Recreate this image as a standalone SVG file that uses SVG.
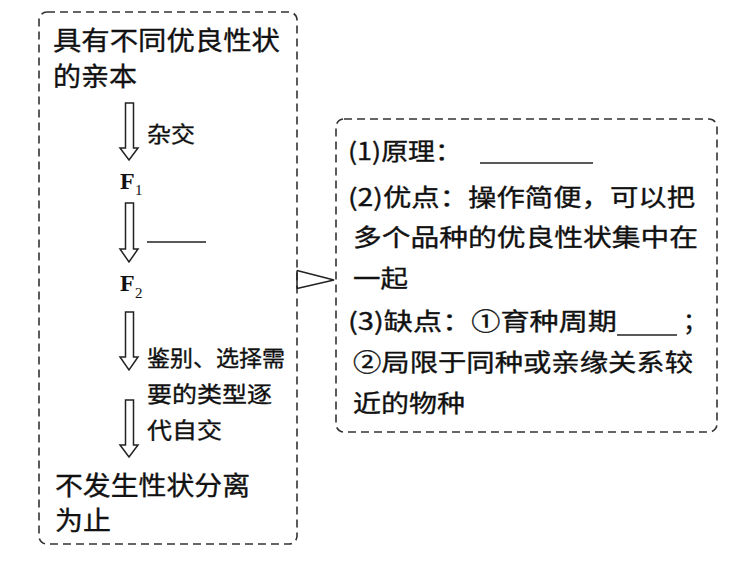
<svg xmlns="http://www.w3.org/2000/svg" width="754" height="561" viewBox="0 0 754 561">
<style>
.box{fill:none;stroke:#333;stroke-width:1.6;stroke-dasharray:8 5}
.arr{fill:#fff;stroke:#222;stroke-width:1.5;stroke-linejoin:miter}
.t{font-family:"Noto Sans CJK SC","Noto Sans",sans-serif;fill:#111;stroke:#111;stroke-width:0.35}
.big{font-size:26px}
.mid{font-size:22px}
.rt{font-size:24px}
.f{font-family:"Liberation Serif",serif;font-weight:bold;font-size:24px;fill:#111}
.sub{font-family:"Liberation Serif",serif;font-size:15px;fill:#111}
.ln{stroke:#222;stroke-width:1.4}
</style>
<rect width="754" height="561" fill="#fff"/>
<g id="left-node">
<rect class="box" x="39" y="12" width="258" height="532" rx="8"/>
<text class="t big" x="53" y="50" textLength="227" lengthAdjust="spacingAndGlyphs">具有不同优良性状</text>
<text class="t big" x="53" y="86" textLength="84" lengthAdjust="spacingAndGlyphs">的亲本</text>
<path class="arr" d="M125.5,103 V148 H120 L129,160 L138,148 H133.5 V103 Z"/>
<text class="t mid" x="147" y="142" textLength="48" lengthAdjust="spacingAndGlyphs">杂交</text>
<text class="f" x="120" y="189">F</text><text class="sub" x="135" y="195">1</text>
<path class="arr" d="M125.5,203 V249 H120 L129,262 L138,249 H133.5 V203 Z"/>
<line class="ln" x1="147" y1="242" x2="206" y2="242"/>
<text class="f" x="120" y="291">F</text><text class="sub" x="135" y="298">2</text>
<path class="arr" d="M125.5,312 V357 H120 L129,370 L138,357 H133.5 V312 Z"/>
<text class="t mid" x="147" y="366" textLength="138" lengthAdjust="spacingAndGlyphs">鉴别、选择需</text>
<text class="t mid" x="147" y="402" textLength="125" lengthAdjust="spacingAndGlyphs">要的类型逐</text>
<path class="arr" d="M125.5,400 V445 H120 L129,457 L138,445 H133.5 V400 Z"/>
<text class="t mid" x="147" y="438" textLength="75" lengthAdjust="spacingAndGlyphs">代自交</text>
<text class="t big" x="55" y="495" textLength="195" lengthAdjust="spacingAndGlyphs">不发生性状分离</text>
<text class="t big" x="55" y="530" textLength="56" lengthAdjust="spacingAndGlyphs">为止</text>
</g>
<g id="connectors">
<path d="M297,270.5 L334,280 L297,288.5" fill="none" stroke="#222" stroke-width="1.5"/>
<line x1="297" y1="270.5" x2="297" y2="288.5" stroke="#222" stroke-width="1.5"/>
</g>
<g id="right-node">
<rect class="box" x="336" y="119" width="381" height="313" rx="8"/>
<text class="t rt" x="348" y="160" textLength="114" lengthAdjust="spacingAndGlyphs">(1)原理：</text>
<line class="ln" x1="480" y1="163" x2="593" y2="163"/>
<text class="t rt" x="348" y="206" textLength="347" lengthAdjust="spacingAndGlyphs">(2)优点：操作简便，可以把</text>
<text class="t rt" x="353" y="246" textLength="345" lengthAdjust="spacingAndGlyphs">多个品种的优良性状集中在</text>
<text class="t rt" x="353" y="287" textLength="55" lengthAdjust="spacingAndGlyphs">一起</text>
<text class="t rt" x="348" y="330" textLength="269" lengthAdjust="spacingAndGlyphs">(3)缺点：①育种周期</text>
<line class="ln" x1="617" y1="335" x2="677" y2="335"/>
<text class="t rt" x="683" y="330">；</text>
<text class="t rt" x="353" y="371" textLength="340" lengthAdjust="spacingAndGlyphs">②局限于同种或亲缘关系较</text>
<text class="t rt" x="353" y="412" textLength="112" lengthAdjust="spacingAndGlyphs">近的物种</text>
</g>
</svg>
